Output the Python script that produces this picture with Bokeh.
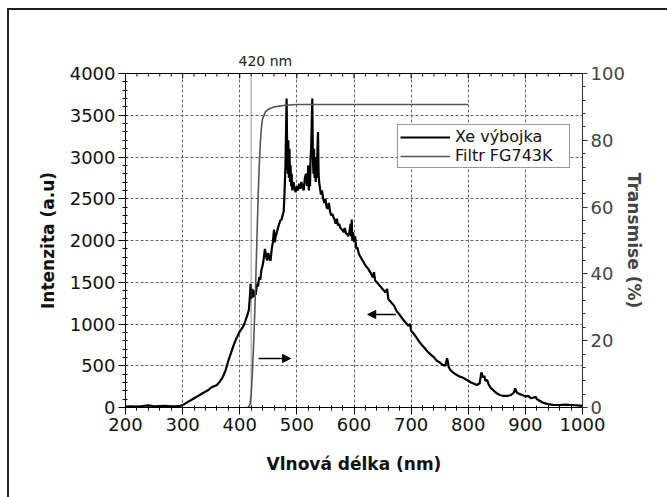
from bokeh.plotting import figure
from bokeh.models import (Range1d, LinearAxis, Legend, LegendItem, Span,
                          Arrow, NormalHead, InlineStyleSheet)
from bokeh.embed import file_html
from bokeh.resources import INLINE

# ---- data ----
xe_nm = [200, 210, 220, 230, 240, 250, 260, 270, 280, 290, 296, 300, 305, 310, 315, 320, 325, 330, 335, 340,
         345, 350, 355, 360, 365, 370, 375, 380, 385, 390, 395, 400, 405, 408, 411, 414, 416, 418, 419, 420,
         422, 424, 426, 428, 430, 432, 434, 436, 438, 440, 442, 444, 446, 448, 450, 452, 454, 456, 458, 460,
         461, 463, 465, 467, 469, 471, 473, 475, 477, 478, 479, 480, 481, 482, 483, 484, 485, 486, 487, 488,
         489, 490, 491, 492, 494, 496, 498, 500, 502, 504, 506, 508, 510, 512, 514, 516, 518, 520, 521, 522,
         523, 524, 525, 526, 527, 528, 529, 530, 531, 532, 533, 534, 535, 536, 537, 538, 539, 540, 542, 544,
         546, 548, 550, 552, 554, 556, 558, 560, 562, 564, 566, 568, 570, 572, 574, 576, 578, 580, 582, 584,
         586, 588, 590, 592, 594, 595, 596, 597, 598, 600, 602, 604, 606, 608, 610, 615, 620, 625, 630, 633,
         635, 637, 640, 645, 650, 655, 658, 660, 665, 670, 675, 680, 685, 690, 695, 698, 700, 705, 710, 715,
         720, 725, 730, 735, 740, 745, 750, 755, 760, 763, 766, 770, 775, 780, 785, 790, 795, 800, 805, 810,
         815, 820, 823, 826, 828, 830, 833, 836, 840, 845, 850, 855, 860, 865, 870, 875, 880, 882, 885, 890,
         895, 900, 905, 910, 915, 918, 920, 925, 930, 935, 940, 945, 950, 960, 970, 980, 990, 1000]
xe_int = [10, 15, 12, 18, 25, 15, 18, 20, 15, 18, 20, 30, 50, 70, 90, 110, 130, 150, 170, 190,
          210, 240, 255, 270, 310, 360, 440, 560, 660, 760, 840, 910, 960, 1000, 1060, 1120, 1170, 1350, 1480, 1300,
          1420, 1320, 1400, 1350, 1480, 1450, 1560, 1530, 1650, 1700, 1780, 1900, 1820, 1760, 1850, 1780, 1760, 1900, 1980, 2130,
          1980, 2050, 2100, 2150, 2200, 2240, 2250, 2300, 2350, 2500, 2700, 2900, 3300, 3700, 3100, 2800, 3200, 2750, 3100, 2700,
          2900, 2650, 2800, 2600, 2700, 2620, 2580, 2650, 2600, 2680, 2620, 2700, 2640, 2600, 2750, 2800, 2650, 2900, 2600, 2800,
          2650, 3000, 3100, 3400, 3700, 3000, 2800, 3100, 2750, 2900, 2700, 3000, 2750, 3100, 3300, 2800, 2700, 2650, 2550, 2600,
          2500, 2450, 2500, 2400, 2380, 2450, 2350, 2300, 2320, 2280, 2250, 2200, 2260, 2180, 2200, 2150, 2140, 2120, 2100, 2150,
          2080, 2080, 2050, 2100, 2200, 2050, 2250, 2000, 2100, 1980, 2050, 1900, 1920, 1850, 1820, 1760, 1700, 1660, 1600, 1560,
          1620, 1520, 1500, 1460, 1420, 1380, 1420, 1300, 1260, 1220, 1150, 1110, 1060, 1020, 980, 1000, 920, 880, 830, 780,
          740, 700, 660, 630, 600, 560, 540, 510, 500, 590, 480, 440, 410, 390, 370, 360, 340, 320, 300, 285,
          270, 290, 420, 360, 380, 320, 330, 270, 230, 200, 170, 150, 140, 140, 140, 150, 180, 230, 180, 160,
          150, 130, 140, 110, 120, 130, 100, 80, 60, 50, 40, 35, 30, 30, 35, 30, 25, 20]

filt_nm = [410, 415, 418, 420, 422, 424, 426, 428, 430, 432, 434, 436, 438, 440, 445, 450, 460, 480, 500, 800]
filt_t = [0, 0, 1, 4, 10, 18, 27, 38, 50, 62, 72, 79, 84, 86.5, 88.5, 89.3, 90, 90.5, 90.7, 90.7]

x_ticks = [200, 300, 400, 500, 600, 700, 800, 900, 1000]
y_ticks = [0, 500, 1000, 1500, 2000, 2500, 3000, 3500, 4000]
t_ticks = [0, 20, 40, 60, 80, 100]

marker_nm = 420
marker_text = "420 nm"
arrow_right = (433, 489, 587)    # x_start, x_end, y (intensity units)
arrow_left = (673, 624, 1114)

FONT = "DejaVu Sans"

p = figure(width=667, height=497, output_backend="svg", toolbar_location=None,
           x_range=Range1d(200, 1000), y_range=Range1d(0, 4000),
           min_border_left=125, min_border_right=85, min_border_top=73, min_border_bottom=90)
p.extra_y_ranges = {"trans": Range1d(0, 100)}
p.background_fill_color = "white"
p.border_fill_color = "white"
p.outline_line_color = "black"
p.outline_line_width = 1

# "420 nm" caption above the frame
p.title.text = marker_text
p.title.align = "left"
p.title.offset = 113
p.title.text_font = FONT
p.title.text_font_size = "14px"
p.title.text_font_style = "normal"
p.title.text_color = "#222222"
p.title.standoff = 10

# grids
for g in (p.xgrid, p.ygrid):
    g.grid_line_color = "#666666"
    g.grid_line_dash = "3 2"
    g.grid_line_width = 1
p.xgrid.ticker = x_ticks
p.ygrid.ticker = y_ticks

# bottom axis
xa = p.xaxis[0]
xa.ticker.desired_num_ticks = 9
xa.ticker.num_minor_ticks = 5
xa.axis_label = "Vlnová délka (nm)"
# left axis
ya = p.yaxis[0]
ya.ticker.desired_num_ticks = 9
ya.ticker.num_minor_ticks = 5
ya.axis_label = "Intenzita (a.u)"

for ax in (xa, ya):
    ax.major_tick_out = 7
    ax.major_tick_in = 0
    ax.minor_tick_out = 3
    ax.minor_tick_in = 2
    ax.axis_line_color = "black"
    ax.major_tick_line_color = "black"
    ax.minor_tick_line_color = "black"
    ax.major_label_text_font = FONT
    ax.major_label_text_font_size = "18px"
    ax.major_label_text_color = "#111111"
    ax.axis_label_text_font = FONT
    ax.axis_label_text_font_size = "17px"
    ax.axis_label_text_font_style = "bold"
    ax.axis_label_text_color = "#111111"
    ax.major_label_standoff = 3
xa.axis_label_standoff = 20
ya.axis_label_standoff = 9

# right axis
ra = LinearAxis(y_range_name="trans", axis_label="Transmise (%)")
ra.ticker.desired_num_ticks = 6
ra.ticker.num_minor_ticks = 5
ra.major_tick_out = 5
ra.major_tick_in = 0
ra.minor_tick_out = 3
ra.minor_tick_in = 0
ra.axis_line_color = "#333333"
ra.major_tick_line_color = "#333333"
ra.minor_tick_line_color = "#333333"
ra.major_label_text_font = FONT
ra.major_label_text_font_size = "18px"
ra.major_label_text_color = "#444444"
ra.major_label_standoff = 3
ra.axis_label_text_font = FONT
ra.axis_label_text_font_size = "17px"
ra.axis_label_text_font_style = "bold"
ra.axis_label_text_color = "#444444"
ra.axis_label_standoff = -4
p.add_layout(ra, "right")

# top edge ticks pointing into the frame (major every 100 nm, minor every 20 nm)
top_major = x_ticks
top_minor = [t + k * 20 for t in x_ticks[:-1] for k in range(1, 5)]
y_top = y_ticks[-1]
p.segment(x0=top_major, x1=top_major, y0=[y_top] * len(top_major), y1=[y_top - 60] * len(top_major),
          line_color="black", line_width=1)
p.segment(x0=top_minor, x1=top_minor, y0=[y_top] * len(top_minor), y1=[y_top - 36] * len(top_minor),
          line_color="black", line_width=1)

# data lines
r_xe = p.line(xe_nm, xe_int, line_color="black", line_width=2.2)
r_f = p.line(filt_nm, filt_t, line_color="#555555", line_width=1.6, y_range_name="trans")

# 420 nm marker line
p.add_layout(Span(location=marker_nm, dimension="height", line_color="#555555",
                  line_dash="1 1", line_width=1.2))

# arrows
p.add_layout(Arrow(x_start=arrow_right[0], x_end=arrow_right[1], y_start=arrow_right[2], y_end=arrow_right[2],
                   line_color="black", line_width=1.3,
                   end=NormalHead(size=8, fill_color="black", line_color="black")))
p.add_layout(Arrow(x_start=arrow_left[0], x_end=arrow_left[1], y_start=arrow_left[2], y_end=arrow_left[2],
                   line_color="black", line_width=1.3,
                   end=NormalHead(size=8, fill_color="black", line_color="black")))

# legend
leg = Legend(items=[LegendItem(label="Xe výbojka", renderers=[r_xe]),
                    LegendItem(label="Filtr FG743K", renderers=[r_f])],
             location=(272, 239))
leg.label_text_font = FONT
leg.label_text_font_size = "16px"
leg.label_text_color = "#111111"
leg.border_line_color = "#333333"
leg.border_line_width = 1
leg.background_fill_color = "white"
leg.background_fill_alpha = 1
leg.padding = 2
leg.spacing = 0
leg.margin = 0
leg.glyph_width = 50
leg.glyph_height = 18
leg.label_height = 18
leg.label_width = 112
leg.label_standoff = 5
p.add_layout(leg)

# outer frame: a top and a left edge line of the picture border
p.stylesheets = [InlineStyleSheet(css="""
:host::before {
  content: "";
  position: absolute;
  left: 7px; top: 8px; width: 660px; height: 2px;
  background: #222;
  pointer-events: none;
  z-index: 100;
}
:host::after {
  content: "";
  position: absolute;
  left: 7px; top: 8px; width: 2px; height: 489px;
  background: #222;
  pointer-events: none;
  z-index: 100;
}
""")]

open("out.html", "w").write(file_html(p, INLINE))
